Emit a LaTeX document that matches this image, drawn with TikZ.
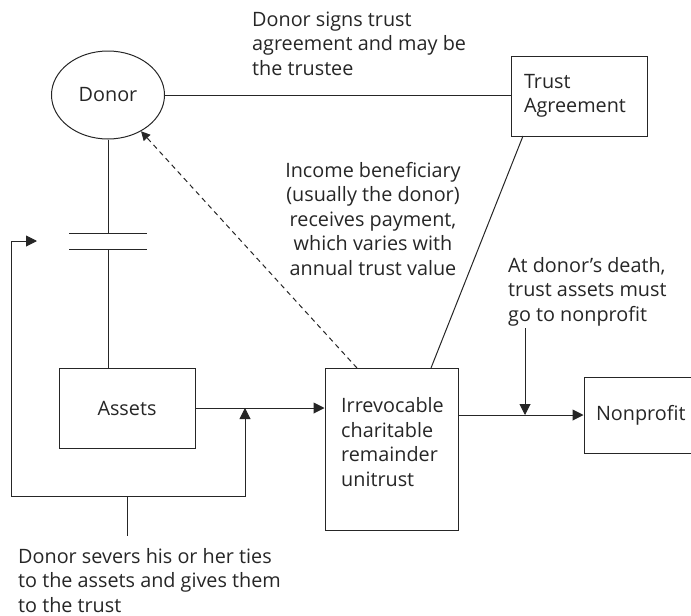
\documentclass[tikz,border=0pt]{standalone}
\usepackage{fontspec}
\setmainfont{Open Sans}
\usetikzlibrary{arrows.meta,shapes.geometric}
\definecolor{ink}{HTML}{262626}
\begin{document}
\begin{tikzpicture}[x=1pt,y=-1pt,
  every node/.style={font=\fontsize{19.8}{24.5}\selectfont, text=ink},
  line/.style={draw=ink, line width=1pt},
  arr/.style={line, -{Triangle[length=11pt,width=11pt]}},
  box/.style={line, rectangle, inner sep=0pt},
  note/.style={align=left, inner sep=0pt, anchor=base west}]
\clip (0,0) rectangle (691,616);

% boxes and the donor ellipse
\node[line, ellipse, minimum width=113pt, minimum height=88pt, inner sep=0pt] (donor) at (108,95) {Donor};
\node[box, minimum width=136pt, minimum height=80pt, text width=110pt, inner xsep=13pt, align=left] (trust) at (579,96) {Trust\\Agreement};
\node[box, minimum width=136pt, minimum height=80pt] (assets) at (127,408) {Assets};
\node[box, minimum width=133pt, minimum height=162pt] (irr) at (391.5,449) {};
\node[note] (irrtext) at (341,486) {Irrevocable\\charitable\\remainder\\unitrust};
\node[box, minimum width=136pt, minimum height=76pt, text width=112pt, inner xsep=12pt, align=left] (nonprofit) at (652,415) {Nonprofit};

% explanatory notes (anchored at the baseline of their last line)
\node[note] (signs) at (252,75) {Donor signs trust\\agreement and may be\\the trustee};
\node[align=center, inner sep=0pt, anchor=base] (income) at (373,275) {Income beneficiary\\(usually the donor)\\receives payment,\\which varies with\\annual trust value};
\node[note] (death) at (508,321) {At donor’s death,\\trust assets must\\go to nonprofit};
\node[note] (severs) at (18,612) {Donor severs his or her ties\\to the assets and gives them\\to the trust};

% helper points
\coordinate (captop) at (108,233);
\coordinate (capbot) at (108,249);
\coordinate (loopin) at (37,241);
\coordinate (join) at (245,408);
\coordinate (tick) at (127,496);
\coordinate (dashstart) at (357,368);
\coordinate (irrtop) at (431,368);
\coordinate (trustbot) at (523,136);
\coordinate (dstart) at (525,328);

% donor signs the agreement
\draw[line] (donor.east) -- (donor.east -| trust.west);
% severed tie between donor and assets
\draw[line] (donor.south) -- (captop);
\draw[line] ([xshift=-39pt]captop) -- ([xshift=39pt]captop);
\draw[line] ([xshift=-39pt]capbot) -- ([xshift=39pt]capbot);
\draw[line] (capbot) -- (capbot |- assets.north);
% assets go to the trust
\draw[arr] (assets.east) -- (assets.east -| irr.west);
% loop back from the assets
\draw[line, {Triangle[length=11pt,width=11pt]}-{Triangle[length=11pt,width=11pt]}]
  (loopin) -- (11,241) -- (11,496) -- (245,496) -- (join);
\draw[line] (tick) -- ++(0,40);
% payments to the income beneficiary
\draw[line, dashed, dash pattern=on 5pt off 4pt, -{Triangle[length=9pt,width=9pt]}] (dashstart) -- (donor);
% trust agreement governs the unitrust
\draw[line] (irrtop) -- (trustbot);
% remainder to the nonprofit
\draw[arr] (irr.east |- nonprofit) -- (nonprofit.west);
\draw[arr] (dstart) -- (dstart |- nonprofit);
\end{tikzpicture}
\end{document}
